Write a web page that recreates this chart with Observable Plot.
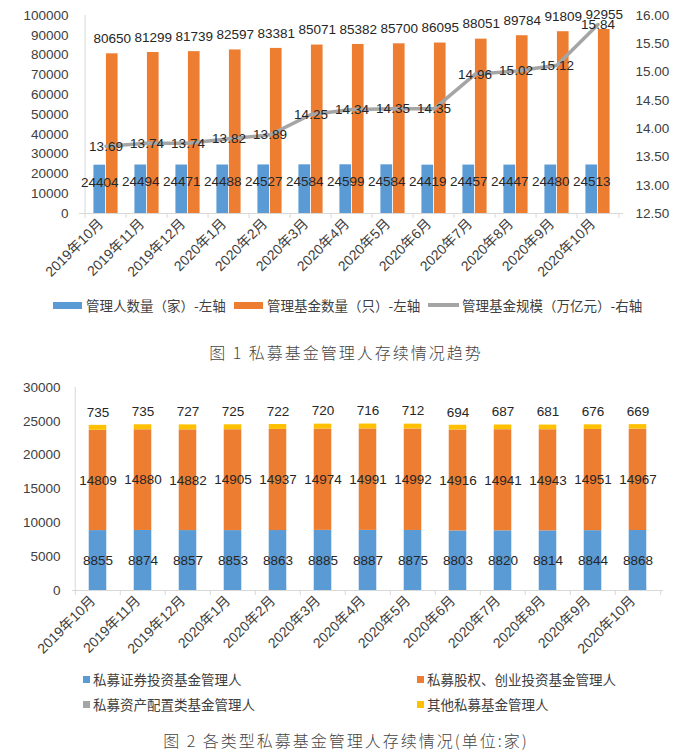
<!DOCTYPE html>
<html><head><meta charset="utf-8">
<script src="https://cdn.jsdelivr.net/npm/d3@7"></script>
<script src="https://cdn.jsdelivr.net/npm/@observablehq/plot@0.6"></script>
<style>
body{margin:0;background:#fff;width:692px;height:755px;position:relative;overflow:hidden;
 font-family:"Liberation Sans",Arial,"Noto Sans CJK SC",sans-serif;color:#404040;}
.abs{position:absolute;}
.sw{position:absolute;}
.lt{position:absolute;font-size:13.5px;line-height:16px;white-space:nowrap;color:#404040;font-family:"Noto Sans CJK SC","Liberation Sans",sans-serif;}
.cap{position:absolute;left:0;width:692px;text-align:center;font-size:16px;letter-spacing:2px;color:#444;font-family:"Noto Sans CJK SC",serif;font-weight:300;line-height:20px;}
</style></head><body>
<div id="c1" class="abs" style="left:0;top:0"></div>
<div id="c2" class="abs" style="left:0;top:375px"></div>

<div class="sw" style="left:53px;top:302px;width:29px;height:7px;background:#5b9bd5"></div>
<div class="lt" style="left:86px;top:297px">管理人数量（家）-左轴</div>
<div class="sw" style="left:234px;top:302px;width:29px;height:7px;background:#ed7d31"></div>
<div class="lt" style="left:267px;top:297px">管理基金数量（只）-左轴</div>
<div class="sw" style="left:428px;top:303px;width:31px;height:4px;background:#a5a5a5"></div>
<div class="lt" style="left:462px;top:297px">管理基金规模（万亿元）-右轴</div>
<div class="cap" style="top:342px">图 1 私募基金管理人存续情况趋势</div>

<div id="leg2"></div>
<div class="cap" style="top:730px">图 2 各类型私募基金管理人存续情况(单位:家)</div>

<script>
// ---- data ----
const months = ["2019年10月","2019年11月","2019年12月","2020年1月","2020年2月","2020年3月","2020年4月","2020年5月","2020年6月","2020年7月","2020年8月","2020年9月","2020年10月"];
const managers = [24404,24494,24471,24488,24527,24584,24599,24584,24419,24457,24447,24480,24513];
const funds = [80650,81299,81739,82597,83381,85071,85382,85700,86095,88051,89784,91809,92955];
const fundScale = [13.69,13.74,13.74,13.82,13.89,14.25,14.34,14.35,14.35,14.96,15.02,15.12,15.84];

const series2 = ["私募证券投资基金管理人","私募股权、创业投资基金管理人","私募资产配置类基金管理人","其他私募基金管理人"];
const securities = [8855,8874,8857,8853,8863,8885,8887,8875,8803,8820,8814,8844,8868];
const equity = [14809,14880,14882,14905,14937,14974,14991,14992,14916,14941,14943,14951,14967];
const allocation = [5,5,5,5,5,5,5,5,6,9,9,9,9];
const other = [735,735,727,725,722,720,716,712,694,687,681,676,669];

const leftTicks1 = d3.range(0, 100001, 10000);
const rightTicks1 = d3.range(12.5, 16.001, 0.5);
const leftTicks2 = d3.range(0, 30001, 5000);

// ---- chart 1 ----
const rows1 = months.map((m,i)=>({month:m, managers:managers[i], funds:funds[i], scale:fundScale[i]}));
const L = [0, 100000], R = [12.5, 16];
const toLeft = v => (v - R[0])/(R[1]-R[0])*(L[1]-L[0]) + L[0];
const toRight = v => R[0] + (v - L[0])/(L[1]-L[0])*(R[1]-R[0]);
const W1 = 692, ml1 = 79, mr1 = 69;
const step1 = (W1 - ml1 - mr1)/months.length;
const bw1 = 12.5;
const font = "Liberation Sans, Arial, Noto Sans CJK SC, sans-serif";
const c1 = Plot.plot({
  width: W1, height: 290, marginTop: 15, marginBottom: 77, marginLeft: ml1, marginRight: mr1,
  style: {fontFamily: font, fontSize: "13px", color: "#404040", background: "transparent", overflow: "visible"},
  x: {domain: months, padding: 0, label: null},
  y: {domain: L, label: null},
  marks: [
    Plot.barY(rows1, {x: "month", y: "managers", fill: "#5b9bd5", insetLeft: step1/2 - bw1, insetRight: step1/2}),
    Plot.barY(rows1, {x: "month", y: "funds", fill: "#ed7d31", insetLeft: step1/2, insetRight: step1/2 - bw1}),
    Plot.ruleY([0], {stroke: "#d9d9d9"}),
    Plot.ruleX([months[0]], {stroke: "#d9d9d9", dx: -step1/2, y1: L[0], y2: L[1]}),
    Plot.axisY({ticks: leftTicks1, tickFormat: d => String(d), tickSize: 0, tickPadding: 11, label: null, fontSize: 13.5, fill: "#404040"}),
    Plot.axisY({anchor: "right", ticks: rightTicks1.map(toLeft), tickFormat: v => toRight(v).toFixed(2), tickSize: 0, tickPadding: 12, label: null, fontSize: 13.5, fill: "#404040"}),
    Plot.axisX({tickSize: 0, tickRotate: -45, tickPadding: 8, dx: -5, label: null, fontSize: 14, fill: "#404040"}),
    Plot.axisX({tickSize: 5, text: null, dx: -step1/2, label: null, stroke: "#d9d9d9"}),
    Plot.axisX({ticks: [months[months.length-1]], tickSize: 5, text: null, dx: step1/2, label: null, stroke: "#d9d9d9"}),
    Plot.line(rows1, {x: "month", y: d => toLeft(d.scale), stroke: "#a5a5a5", strokeWidth: 3.5}),
    Plot.text(rows1, {x: "month", y: "funds", text: d => String(d.funds), dx: bw1/2, dy: -15, fill: "#262626", fontSize: 13.5}),
    Plot.text(rows1, {x: "month", y: "managers", text: d => String(d.managers), dx: -bw1/2, dy: 17, fill: "#262626", fontSize: 13.5}),
    Plot.text(rows1, {x: "month", y: d => toLeft(d.scale), text: d => d.scale.toFixed(2), fill: "#262626", fontSize: 13.5})
  ]
});
document.getElementById("c1").appendChild(c1);

// ---- chart 2 ----
const colors2 = ["#5b9bd5","#ed7d31","#a5a5a5","#ffc000"];
const vals2 = [securities, equity, allocation, other];
const rows2 = months.flatMap((m,i)=>series2.map((s,j)=>({month:m, series:s, value:vals2[j][i]})));
const W2 = 692, ml2 = 72, mr2 = 29;
const step2 = (W2 - ml2 - mr2)/months.length;
const bw2 = 18;
const c2 = Plot.plot({
  width: W2, height: 290, marginTop: 12, marginBottom: 75, marginLeft: ml2, marginRight: mr2,
  style: {fontFamily: font, fontSize: "13px", color: "#404040", background: "transparent", overflow: "visible"},
  x: {domain: months, padding: 0, label: null},
  y: {domain: [0, 30000], label: null},
  color: {domain: series2, range: colors2},
  marks: [
    Plot.barY(rows2, {x: "month", y: "value", z: "series", fill: "series", insetLeft: (step2-bw2)/2, insetRight: (step2-bw2)/2}),
    Plot.ruleY([0], {stroke: "#d9d9d9"}),
    Plot.ruleX([months[0]], {stroke: "#d9d9d9", dx: -step2/2, y1: 0, y2: 30000}),
    Plot.axisY({ticks: leftTicks2, tickFormat: d => String(d), tickSize: 0, tickPadding: 12, label: null, fontSize: 13.5, fill: "#404040"}),
    Plot.axisX({tickSize: 0, tickRotate: -45, tickPadding: 8, dx: -5, label: null, fontSize: 14, fill: "#404040"}),
    Plot.axisX({tickSize: 5, text: null, dx: -step2/2, label: null, stroke: "#d9d9d9"}),
    Plot.axisX({ticks: [months[months.length-1]], tickSize: 5, text: null, dx: step2/2, label: null, stroke: "#d9d9d9"}),
    Plot.text(rows2, Plot.stackY({x: "month", y: "value", z: "series",
      text: d => (d.series === series2[0] || d.series === series2[1]) ? String(d.value) : null,
      fill: "#262626", fontSize: 13.5})),
    Plot.text(rows2, Plot.stackY2({x: "month", y: "value", z: "series",
      text: d => d.series === series2[3] ? String(d.value) : null,
      dy: -13, fill: "#262626", fontSize: 13.5}))
  ]
});
document.getElementById("c2").appendChild(c2);

// legend 2
const leg2 = document.getElementById("leg2");
const pos2 = [[83,680],[417,680],[83,705],[417,705]];
series2.forEach((s,i)=>{
  const sw = document.createElement("div");
  sw.className = "sw";
  sw.style.cssText = `left:${pos2[i][0]}px;top:${pos2[i][1]-4}px;width:7px;height:7px;background:${colors2[i]}`;
  const t = document.createElement("div");
  t.className = "lt";
  t.style.cssText = `left:${pos2[i][0]+10}px;top:${pos2[i][1]-9}px`;
  t.textContent = s;
  leg2.appendChild(sw); leg2.appendChild(t);
});
</script>
</body></html>
